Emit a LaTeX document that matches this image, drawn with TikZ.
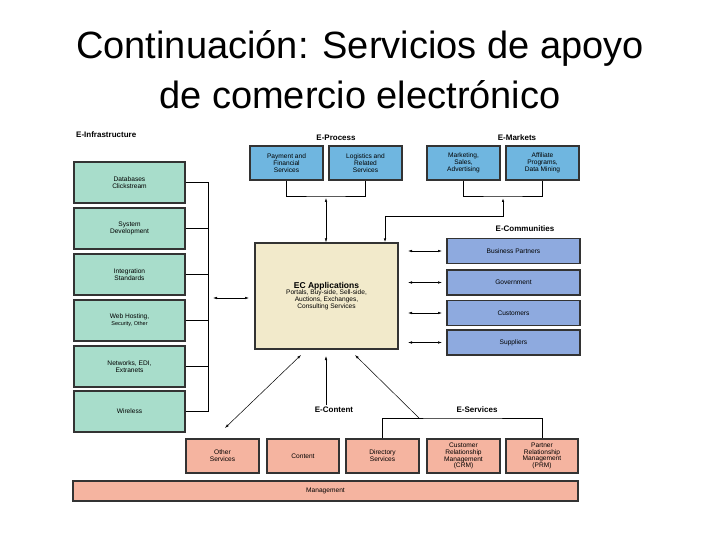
\documentclass[tikz,border=0pt]{standalone}
\usepackage{fontspec}
\setmainfont{Liberation Sans}
\usetikzlibrary{arrows.meta}
\definecolor{infra}{HTML}{A8DDCB}
\definecolor{proc}{HTML}{6FB6E0}
\definecolor{comm}{HTML}{8EAADF}
\definecolor{ecapp}{HTML}{F2EACB}
\definecolor{salmon}{HTML}{F5B4A0}
\begin{document}
\begin{tikzpicture}[x=1pt,y=-1pt,
 bx/.style={draw=black!80,line width=1.2pt,inner sep=0pt,align=center,font=\fontsize{6.6}{6.8}\selectfont},
 lbl/.style={font=\bfseries\fontsize{8}{8}\selectfont,inner sep=0pt},
 ln/.style={line width=0.9pt},
 ar/.style={line width=0.5pt,{Latex[length=4pt,width=2.5pt]}-{Latex[length=4pt,width=2.5pt]}},
 ar1/.style={line width=0.5pt,-{Latex[length=4pt,width=2.5pt]}}]
\useasboundingbox (0,0) rectangle (720,540);
\node[font=\fontsize{38}{50}\selectfont,align=center] (title) at (360,70) {Continuación: Servicios de apoyo\\de comercio electrónico};
% infrastructure
\node[lbl,anchor=west] (linf) at (76,135) {E-Infrastructure};
\node[bx,fill=infra,minimum width=111,minimum height=41] (i1) at (129.5,182.5) {Databases\\Clickstream};
\node[bx,fill=infra,minimum width=111,minimum height=41] (i2) at (129.5,228.5) {System\\Development};
\node[bx,fill=infra,minimum width=111,minimum height=41] (i3) at (129.5,274.5) {Integration\\Standards};
\node[bx,fill=infra,minimum width=111,minimum height=41] (i4) at (129.5,320.5) {Web Hosting,\\{\fontsize{5.5}{6.5}\selectfont Security, Other}};
\node[bx,fill=infra,minimum width=111,minimum height=41] (i5) at (129.5,366.5) {Networks, EDI,\\Extranets};
\node[bx,fill=infra,minimum width=111,minimum height=41] (i6) at (129.5,411.5) {Wireless};
\coordinate (bt) at (208,182.5); \coordinate (bb) at (208,411.5);
\foreach \n in {i1,i2,i3,i4,i5,i6} \draw[ln] (\n.east) -- (208,0 |- \n.east);
\draw[ln] (bt) -- (bb);
% EC
\node[bx,fill=ecapp,minimum width=143,minimum height=106] (ec) at (326.5,296) {{\bfseries\fontsize{8.5}{10}\selectfont EC Applications}\\Portals, Buy-side, Sell-side,\\Auctions, Exchanges,\\Consulting Services};
\coordinate (la) at (213,298); \coordinate (lb) at (249,298);
\draw[ar] (la) -- (lb);
% E-Process
\node[lbl] (lp) at (336,138) {E-Process};
\node[bx,fill=proc,minimum width=73,minimum height=34] (p1) at (286.5,163) {Payment and\\Financial\\Services};
\node[bx,fill=proc,minimum width=73,minimum height=34] (p2) at (365.5,163) {Logistics and\\Related\\Services};
\node[lbl] (lm) at (517,138) {E-Markets};
\node[bx,fill=proc,minimum width=73,minimum height=34] (m1) at (463.5,163) {Marketing,\\Sales,\\Advertising};
\node[bx,fill=proc,minimum width=73,minimum height=34] (m2) at (542.5,163) {Affiliate\\Programs,\\Data Mining};
\draw[ln] (p1.south) |- (326,196) -| (p2.south);
\draw[ln] (m1.south) |- (503,196) -| (m2.south);
\coordinate (pa) at (326,198);
\draw[ar] (pa) -- (326,0 |- ec.north);
\coordinate (ma) at (503,198); \coordinate (mc) at (385,216);
\draw[ln,{Latex[length=4pt,width=2.5pt]}-] (ma) -- (503,216) -- (mc);
\draw[ar1,line width=0.9pt] (mc) -- (385,0 |- ec.north);
% E-Communities
\node[lbl] (lc) at (525,229) {E-Communities};
\foreach \n/\y/\t in {c1/251/Business Partners,c2/282.5/Government,c3/313/Customers,c4/342.5/Suppliers}{
 \node[bx,fill=comm,minimum width=133,minimum height=25] (\n) at (513.5,\y) {\t};
 \draw[ar] (408,\y) -- (442,\y);}
% bottom
\node[lbl] (lcn) at (334,410) {E-Content};
\node[lbl] (lse) at (477,410) {E-Services};
\node[bx,fill=salmon,minimum width=73,minimum height=34] (b1) at (222.5,456) {Other\\Services};
\node[bx,fill=salmon,minimum width=72,minimum height=34] (b2) at (303,456) {Content};
\node[bx,fill=salmon,minimum width=73,minimum height=34] (b3) at (382.5,456) {Directory\\Services};
\node[bx,fill=salmon,minimum width=73,minimum height=34] (b4) at (463.5,456) {Customer\\Relationship\\Management\\(CRM)};
\node[bx,fill=salmon,minimum width=72,minimum height=34] (b5) at (542,456) {Partner\\Relationship\\Management\\(PRM)};
\node[bx,fill=salmon,minimum width=505,minimum height=20] (mg) at (325.5,491) {Management};
\draw[ln] (b3.north) |- (463,418) -| (b5.north);
\coordinate (d1a) at (301,355); \coordinate (d1b) at (225,428);
\draw[ar] (d1a) -- (d1b);
\coordinate (vc) at (326,405);
\draw[ar1] (vc) -- (326,356);
\coordinate (d2a) at (419,418);
\draw[ar1] (d2a) -- (355,355);
\end{tikzpicture}
\end{document}
